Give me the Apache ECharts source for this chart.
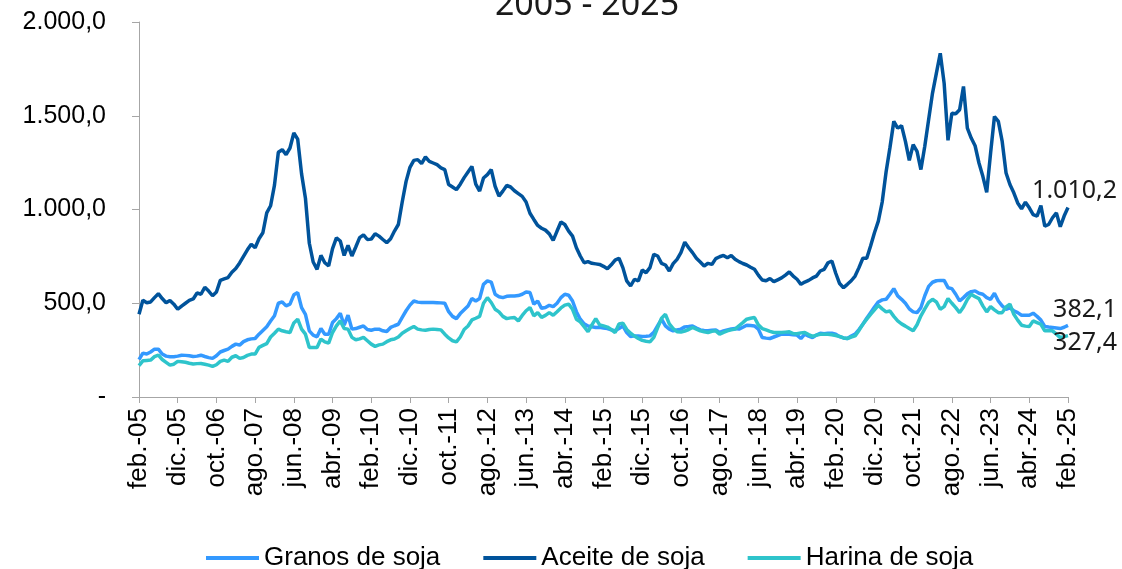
<!DOCTYPE html>
<html>
<head>
<meta charset="utf-8">
<script src="https://cdn.jsdelivr.net/npm/echarts@6/dist/echarts.min.js"></script>
<style>
  html, body { margin: 0; padding: 0; background: #fff; }
  #chart { width: 1122px; height: 569px; }
</style>
</head>
<body>
<div id="chart"></div>
<script>
// meses feb-05 ... feb-25
const monthNames = ['ene.', 'feb.', 'mar.', 'abr.', 'may.', 'jun.', 'jul.', 'ago.', 'sep.', 'oct.', 'nov.', 'dic.'];
const categories = [];
for (let k = 0; k <= 240; k++) {
  const m = (1 + k) % 12;
  const y = 2005 + Math.floor((1 + k) / 12);
  categories.push(monthNames[m] + '-' + String(y).slice(2));
}

const yTickValues = [0, 500, 1000, 1500, 2000];
const yTickLabels = ['-', '500,0', '1.000,0', '1.500,0', '2.000,0'];

const granos = [
  199, 234, 229, 240, 255, 255, 229, 218, 215, 215,
  218, 223, 222, 220, 216, 218, 223, 216, 210, 206,
  220, 240, 248, 255, 270, 282, 277, 295, 305, 310,
  312, 335, 355, 375, 405, 433, 500, 507, 486, 495,
  545, 557, 477, 441, 353, 330, 321, 365, 335, 335,
  397, 418, 447, 383, 436, 362, 365, 372, 379, 360,
  356, 362, 362, 353, 349, 371, 380, 388, 425, 460,
  490, 512, 506, 504, 504, 504, 504, 503, 502, 500,
  455, 430, 418, 445, 465, 485, 525, 512, 525, 601,
  619, 613, 548, 535, 530, 537, 539, 539, 541, 548,
  560, 557, 495, 512, 473, 477, 489, 482, 500, 530,
  548, 543, 512, 455, 415, 390, 379, 375, 371, 372,
  368, 365, 358, 353, 365, 379, 344, 323, 326, 325,
  323, 324, 326, 345, 380, 415, 379, 362, 353, 358,
  362, 374, 376, 379, 368, 358, 355, 353, 356, 358,
  344, 352, 358, 363, 365, 362, 372, 383, 381, 379,
  362, 317, 314, 312, 320, 328, 335, 335, 335, 332,
  330, 312, 335, 325, 317, 330, 340, 337, 340, 340,
  335, 322, 315, 312, 325, 335, 360, 388, 420, 450,
  480, 507, 518, 521, 548, 578, 539, 521, 500, 470,
  454, 450, 477, 540, 590, 612, 620, 622, 622, 583,
  578, 548, 512, 530, 550, 562, 566, 553, 548, 530,
  521, 553, 512, 486, 468, 475, 460, 450, 436, 436,
  436, 447, 430, 410, 376, 373, 371, 368, 365, 372,
  382.1
];

const aceite = [
  441, 516, 503, 507, 530, 551, 525, 503, 515, 495,
  468, 485, 500, 515, 523, 555, 548, 585, 565, 540,
  560, 622, 630, 637, 665, 685, 715, 750, 785, 815,
  796, 844, 876, 982, 1020, 1130, 1305, 1319, 1293, 1328,
  1408, 1375, 1190, 1060, 820, 720, 681, 755, 716, 699,
  791, 849, 832, 755, 809, 752, 800, 850, 865, 840,
  842, 871, 858, 840, 823, 844, 885, 920, 1040, 1150,
  1225, 1262, 1266, 1245, 1280, 1257, 1248, 1239, 1222, 1213,
  1133, 1120, 1106, 1135, 1170, 1200, 1230, 1135, 1098, 1168,
  1186, 1213, 1124, 1071, 1098, 1128, 1120, 1100, 1085, 1070,
  1040, 980, 947, 915, 900, 890, 870, 835, 885, 933,
  920, 885, 858, 796, 752, 716, 722, 713, 710, 707,
  697, 684, 705, 730, 740, 690, 619, 592, 628, 619,
  677, 663, 690, 761, 752, 713, 704, 672, 711, 734,
  770, 826, 796, 770, 740, 720, 699, 713, 707, 738,
  748, 755, 743, 755, 735, 722, 712, 704, 692, 681,
  650, 624, 620, 632, 615, 625, 635, 650, 667, 645,
  628, 601, 613, 622, 635, 645, 672, 681, 716, 725,
  660, 605, 583, 601, 620, 645, 690, 740, 740, 805,
  876, 938, 1040, 1200, 1330, 1470, 1434, 1447, 1363, 1262,
  1346, 1310, 1213, 1337, 1480, 1621, 1727, 1833, 1674, 1369,
  1514, 1511, 1532, 1656, 1434, 1381, 1340, 1248, 1177, 1092,
  1301, 1496, 1470, 1363, 1195, 1133, 1089, 1035, 1004, 1039,
  1009, 973, 965, 1021, 911, 920, 956, 982, 908, 965,
  1010.2
];

const harina = [
  167, 193, 195, 197, 215, 223, 200, 185, 170, 175,
  190, 188, 185, 180, 176, 178, 179, 175, 170, 163,
  172, 190, 197, 190, 212, 220, 206, 211, 222, 229,
  229, 265, 275, 285, 320, 340, 362, 353, 348, 344,
  395, 415, 362, 335, 264, 264, 264, 309, 294, 287,
  344, 379, 406, 365, 362, 318, 305, 310, 318, 300,
  282, 270, 278, 282, 295, 305, 309, 320, 340, 353,
  365, 376, 362, 358, 356, 360, 362, 360, 358, 335,
  315, 300, 294, 320, 360, 379, 411, 420, 430, 500,
  530, 504, 468, 454, 430, 418, 422, 424, 406, 435,
  460, 477, 433, 450, 425, 435, 450, 436, 455, 475,
  490, 495, 468, 415, 401, 375, 348, 385, 418, 385,
  379, 373, 360, 344, 390, 394, 360, 340, 325, 312,
  302, 297, 294, 318, 370, 420, 441, 390, 365, 348,
  346, 352, 360, 371, 362, 353, 348, 344, 350, 353,
  335, 345, 353, 358, 362, 380, 397, 415, 420, 424,
  385, 365, 358, 350, 344, 344, 344, 346, 348, 338,
  337, 342, 344, 333, 323, 330, 335, 335, 335, 332,
  328, 323, 315, 312, 320, 326, 355, 388, 415, 441,
  465, 489, 470, 454, 459, 430, 406, 390, 378, 365,
  353, 385, 433, 470, 505, 521, 507, 468, 482, 525,
  500, 477, 450, 480, 520, 548, 535, 525, 486, 454,
  482, 465, 450, 450, 480, 495, 441, 410, 383, 378,
  376, 406, 397, 388, 353, 353, 353, 335, 317, 322,
  327.4
];

const seriesNames = ['Granos de soja', 'Aceite de soja', 'Harina de soja'];
const seriesColors = ['#3399FF', '#00539B', '#2EC4CB'];

// formato es-AR: 1.010,2
const fmtNum = (v) => {
  const parts = v.toFixed(1).split('.');
  return parts[0].replace(/\B(?=(\d{3})+(?!\d))/g, '.') + ',' + parts[1];
};

const axisGray = '#A6A6A6';
const font = '"Liberation Sans", Arial, sans-serif';

const chart = echarts.init(document.getElementById('chart'));
const option = {
  animation: false,
  backgroundColor: '#fff',
  grid: {left: 139, right: 54, top: 22, bottom: 172, containLabel: false},
  legend: {
    data: seriesNames,
    left: 201,
    top: 540,
    icon: 'rect',
    itemWidth: 53,
    itemHeight: 4,
    itemGap: 43,
    textStyle: {fontFamily: font, fontSize: 26, color: '#000'},
  },
  xAxis: {
    type: 'category',
    data: categories,
    boundaryGap: false,
    axisLine: {lineStyle: {color: axisGray, width: 1}},
    axisTick: {show: true, interval: 9, length: 6, lineStyle: {color: axisGray}},
    axisLabel: {interval: 9, rotate: 90, margin: 11, fontFamily: font, fontSize: 26, color: '#000'},
    splitLine: {show: false},
  },
  yAxis: {
    type: 'value',
    min: 0,
    max: 2000,
    interval: 500,
    axisLine: {show: true, lineStyle: {color: axisGray, width: 1}},
    axisTick: {show: true, length: 7, lineStyle: {color: axisGray}},
    axisLabel: {
      margin: 33,
      fontFamily: font,
      fontSize: 25,
      color: '#000',
      formatter: (v) => yTickLabels[yTickValues.indexOf(v)],
    },
    splitLine: {show: false},
  },
  series: [granos, aceite, harina].map((data, i) => ({
    name: seriesNames[i],
    type: 'line',
    data: data,
    symbol: 'none',
    showSymbol: false,
    lineStyle: {color: seriesColors[i], width: 3.5},
    itemStyle: {color: seriesColors[i]},
  })),
};
chart.setOption(option);

// etiquetas del último dato y título
const endOffsets = [[49, -15], [49, -17], [49, 7]];
const labelFont = '25px "Noto Sans", "DejaVu Sans", sans-serif';
const graphics = [{
  type: 'text',
  x: 587,
  y: 22,
  style: {text: '2005 - 2025', font: '34px "Noto Sans", "DejaVu Sans", sans-serif', fill: '#1a1a1a', align: 'center', verticalAlign: 'bottom'},
}];
[granos, aceite, harina].forEach((data, i) => {
  const last = data.length - 1;
  const p = chart.convertToPixel({seriesIndex: i}, [last, data[last]]);
  graphics.push({
    type: 'text',
    x: p[0] + endOffsets[i][0],
    y: p[1] + endOffsets[i][1],
    z: 100,
    style: {text: fmtNum(data[last]), font: labelFont, fill: '#1a1a1a', align: 'right', verticalAlign: 'middle'},
  });
});
chart.setOption({graphic: graphics});
</script>
</body>
</html>
